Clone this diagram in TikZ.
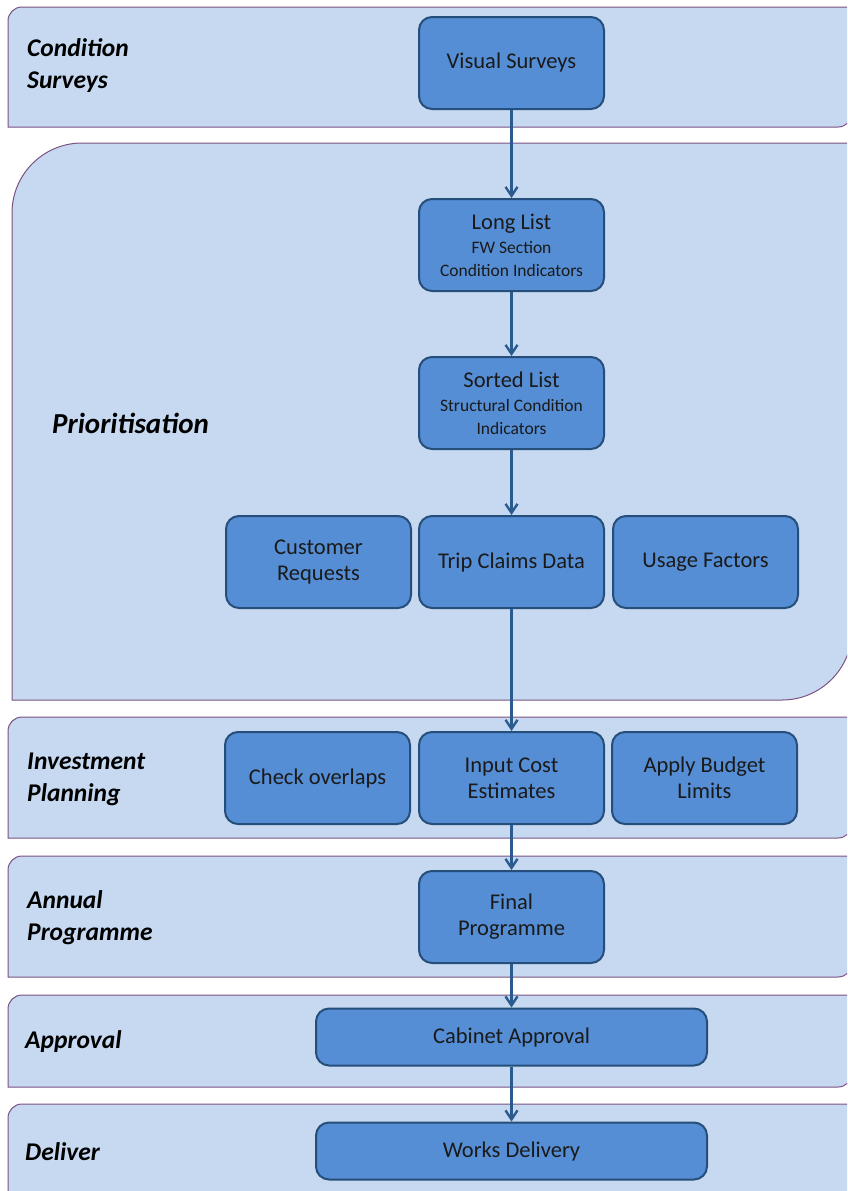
\documentclass[tikz,border=0pt]{standalone}
\usepackage{fontspec}
\setmainfont{Carlito}
\usetikzlibrary{positioning,arrows.meta}

\definecolor{lanefill}{HTML}{C6D9F1}
\definecolor{laneline}{HTML}{7B5382}
\definecolor{boxfill}{HTML}{558ED5}
\definecolor{boxline}{HTML}{254E7A}
\definecolor{arrowcol}{HTML}{2B5A8E}
\definecolor{txt}{HTML}{1A1A1A}

% lane: left x, top y, bottom y, corner radius
\newcommand{\lane}[4]{%
  \draw[lanebox] (#1,#3) -- (#1,#2+#4) arc[start angle=180,end angle=90,radius=#4pt]
    -- (852,#2) -- (852,#3-#4) arc[start angle=0,end angle=-90,radius=#4pt] -- cycle;}

\begin{document}
\begin{tikzpicture}[x=1pt, y=-1pt,
    lanebox/.style={fill=lanefill, draw=laneline, line width=1pt},
    block/.style={rectangle, draw=boxline, line width=2pt, fill=boxfill, text=txt,
      rounded corners=13pt, minimum width=185pt, minimum height=92pt, align=center,
      inner sep=2pt, font=\fontsize{22.5}{26}\selectfont},
    wide/.style={block, minimum width=391pt, minimum height=57pt},
    lab/.style={anchor=west, align=left, text=black, inner sep=0pt,
      font=\fontsize{25.5}{32}\selectfont\bfseries\itshape},
    line/.style={draw=arrowcol, line width=2.4pt, -{Straight Barb[length=9pt,width=12pt]}}]

    \useasboundingbox (0,0) rectangle (847,1191);
    \clip (0,0) rectangle (847,1191);

    % lanes
    \lane{8}{7}{127}{14}
    \lane{12}{143}{700}{70}
    \lane{8}{717}{838}{14}
    \lane{8}{856}{977}{14}
    \lane{8}{995}{1087}{14}
    \lane{8}{1104}{1210}{14}

    % lane labels
    \node [lab] (lcond) at (27,66) {Condition\\Surveys};
    \node [lab, font=\fontsize{29}{32}\selectfont\bfseries\itshape] (lprio) at (52,423) {Prioritisation};
    \node [lab] (linv) at (27,779) {Investment\\Planning};
    \node [lab] (lann) at (27,918) {Annual\\Programme};
    \node [lab] (lapp) at (25,1042) {Approval};
    \node [lab] (ldel) at (25,1152) {Deliver};

    % main column
    \node [block] (visual) at (511.5,63) {Visual Surveys};
    \node [block] (long) at (511.5,245) {Long List\\[-2pt]
      {\fontsize{17.5}{21}\selectfont FW Section}\\[-3pt]
      {\fontsize{17.5}{21}\selectfont Condition Indicators}};
    \node [block] (sorted) at (511.5,403) {Sorted List\\[-2pt]
      {\fontsize{17.5}{21}\selectfont Structural Condition}\\[-3pt]
      {\fontsize{17.5}{21}\selectfont Indicators}};
    \node [block] (trip) at (511.5,562) {Trip Claims Data};
    \node [block, left=6pt of trip] (customer) {Customer\\Requests};
    \node [block, right=7pt of trip] (usage) {Usage Factors};
    \node [block] (cost) at (511.5,778) {Input Cost\\Estimates};
    \node [block, left=7pt of cost] (overlap) {Check overlaps};
    \node [block, right=6pt of cost] (budget) {Apply Budget\\Limits};
    \node [block] (final) at (511.5,917) {Final\\Programme};
    \node [wide] (cabinet) at (511.5,1037) {Cabinet Approval};
    \node [wide] (works) at (511.5,1151) {Works Delivery};

    \path [line] (visual) -- (long);
    \path [line] (long) -- (sorted);
    \path [line] (sorted) -- (trip);
    \path [line] (trip) -- (cost);
    \path [line] (cost) -- (final);
    \path [line] (final) -- (cabinet);
    \path [line] (cabinet) -- (works);
\end{tikzpicture}
\end{document}
